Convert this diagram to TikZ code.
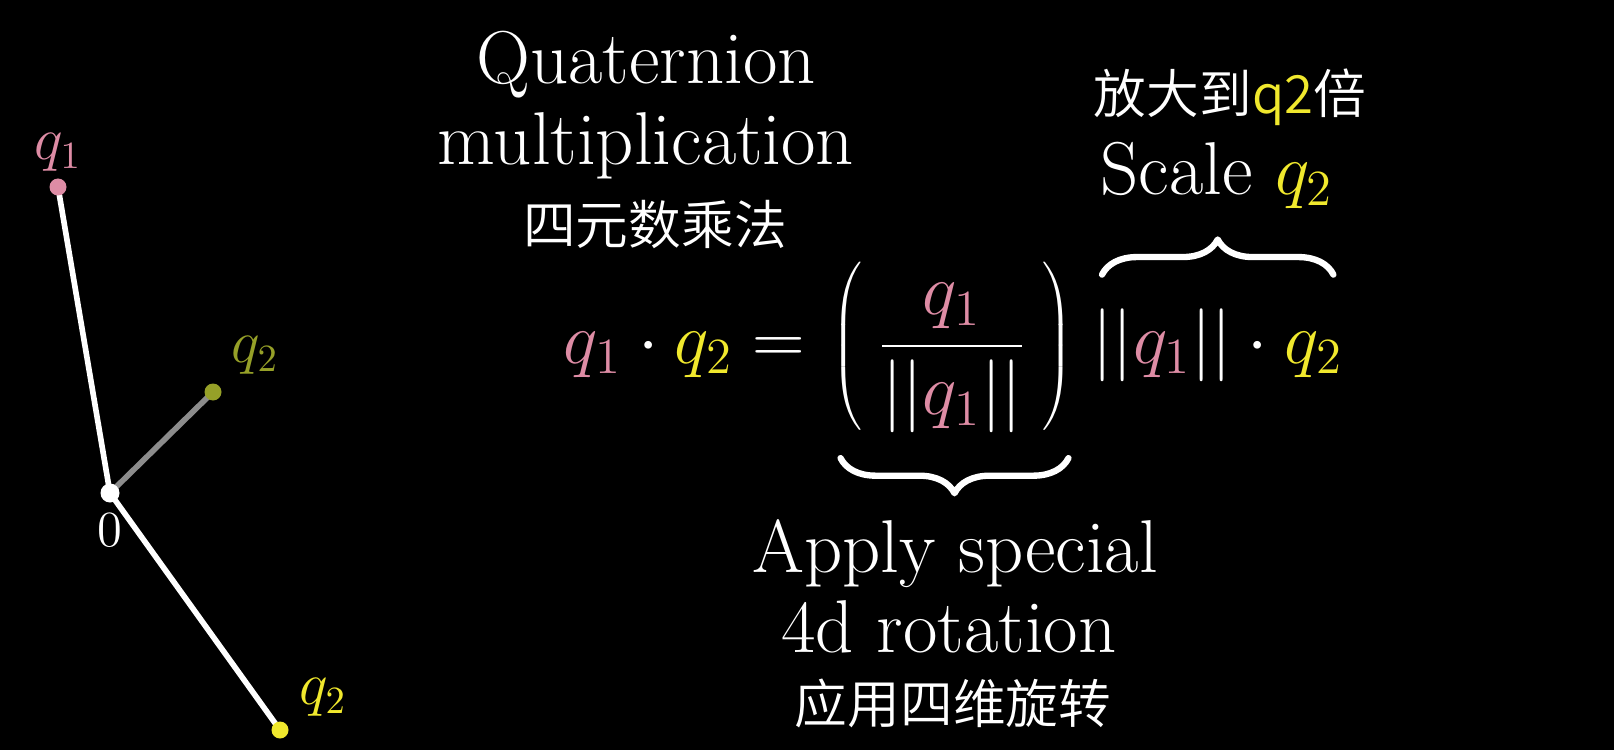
\documentclass[tikz,border=0pt]{standalone}
\usepackage{fontspec}
\newfontfamily\cjk{Noto Sans CJK SC DemiLight}
\usetikzlibrary{decorations.pathreplacing}

\definecolor{qonepink}{RGB}{222,140,165}
\definecolor{qtwoyellow}{RGB}{240,232,45}
\definecolor{qtwofaded}{RGB}{150,160,40}
\definecolor{trailgray}{RGB}{140,140,140}

\tikzset{
  dot/.style={circle,fill,inner sep=0pt,minimum size=0.17cm},
  ptlabel/.style={font=\fontsize{16}{18}\selectfont,inner sep=0pt},
  bigtext/.style={font=\fontsize{21.3}{25}\selectfont,text=white,inner sep=0pt},
  mathtext/.style={font=\fontsize{19.5}{23}\selectfont,text=white,inner sep=0pt},
  hanzi/.style={font=\cjk\fontsize{15}{18}\selectfont,text=white,inner sep=0pt},
  bracket/.style={decorate,decoration={brace,amplitude=10pt},line width=1.8pt,white}
}

\begin{document}
\begin{tikzpicture}[x=1cm,y=1cm,line cap=round,line join=round]
        \fill[black] (0,0) rectangle (16.14,7.5);
        \useasboundingbox (0,0) rectangle (16.14,7.5);

        % vectors from the origin
        \coordinate (O) at (1.10,2.57);
        \coordinate (Q1) at (0.58,5.63);
        \coordinate (Q2old) at (2.13,3.58);
        \coordinate (Q2) at (2.80,0.20);
        \draw[trailgray,line width=1.6pt] (O) -- (Q2old);
        \draw[white,line width=1.6pt] (O) -- (Q1);
        \draw[white,line width=1.6pt] (O) -- (Q2);
        \node[dot,qtwofaded] (q2olddot) at (Q2old) {};
        \node[dot,qonepink] (q1dot) at (Q1) {};
        \node[dot,qtwoyellow] (q2dot) at (Q2) {};
        \node[dot,white,minimum size=0.19cm] (odot) at (O) {};

        \node[ptlabel,text=qonepink] (q1lab) at (0.58,5.98) {$q_1$};
        \node[ptlabel,text=qtwofaded] (q2oldlab) at (2.55,3.95) {$q_2$};
        \node[ptlabel,font=\fontsize{14}{16}\selectfont,text=white] (olab) at (1.10,2.20) {$0$};
        \node[ptlabel,text=qtwoyellow] (q2lab) at (3.23,0.53) {$q_2$};

        % title
        \node[bigtext,anchor=base] (title1) at (6.46,6.66) {Quaternion};
        \node[bigtext,anchor=base] (title2) at (6.46,5.85) {multiplication};
        \node[hanzi] (titlecn) at (6.55,5.25) {四元数乘法};

        % the product
        \node[mathtext,anchor=base west] (lhs) at (5.63,3.87)
            {${\color{qonepink}q_1}\cdot{\color{qtwoyellow}q_2}=$};
        \node[mathtext] (frac) at (9.52,4.03)
            {$\displaystyle\left(\mkern4mu\frac{\color{qonepink}q_1}{||{\color{qonepink}q_1}||}\mkern4mu\right)$};
        \node[mathtext,anchor=base west] (rhs) at (10.92,3.87)
            {$||{\color{qonepink}q_1}||\cdot{\color{qtwoyellow}q_2}$};

        \draw[bracket] ([xshift=1mm,yshift=3.3mm]rhs.north west) -- ([xshift=-1mm,yshift=3.3mm]rhs.north east);
        \draw[bracket] ([xshift=-0.5mm,yshift=-2.5mm]frac.south east) -- ([xshift=1mm,yshift=-2.5mm]frac.south west);

        \node[bigtext,anchor=base] (scale) at (12.17,5.55) {Scale ${\color{qtwoyellow}q_2}$};
        \node[hanzi] (scalecn) at (12.30,6.53) {放大到{\color{qtwoyellow}q2}倍};

        \node[bigtext,anchor=base] (apply) at (9.55,1.78) {Apply special};
        \node[bigtext,anchor=base] (rot) at (9.49,0.98) {4d rotation};
        \node[hanzi] (applycn) at (9.53,0.47) {应用四维旋转};
    \end{tikzpicture}
\end{document}
